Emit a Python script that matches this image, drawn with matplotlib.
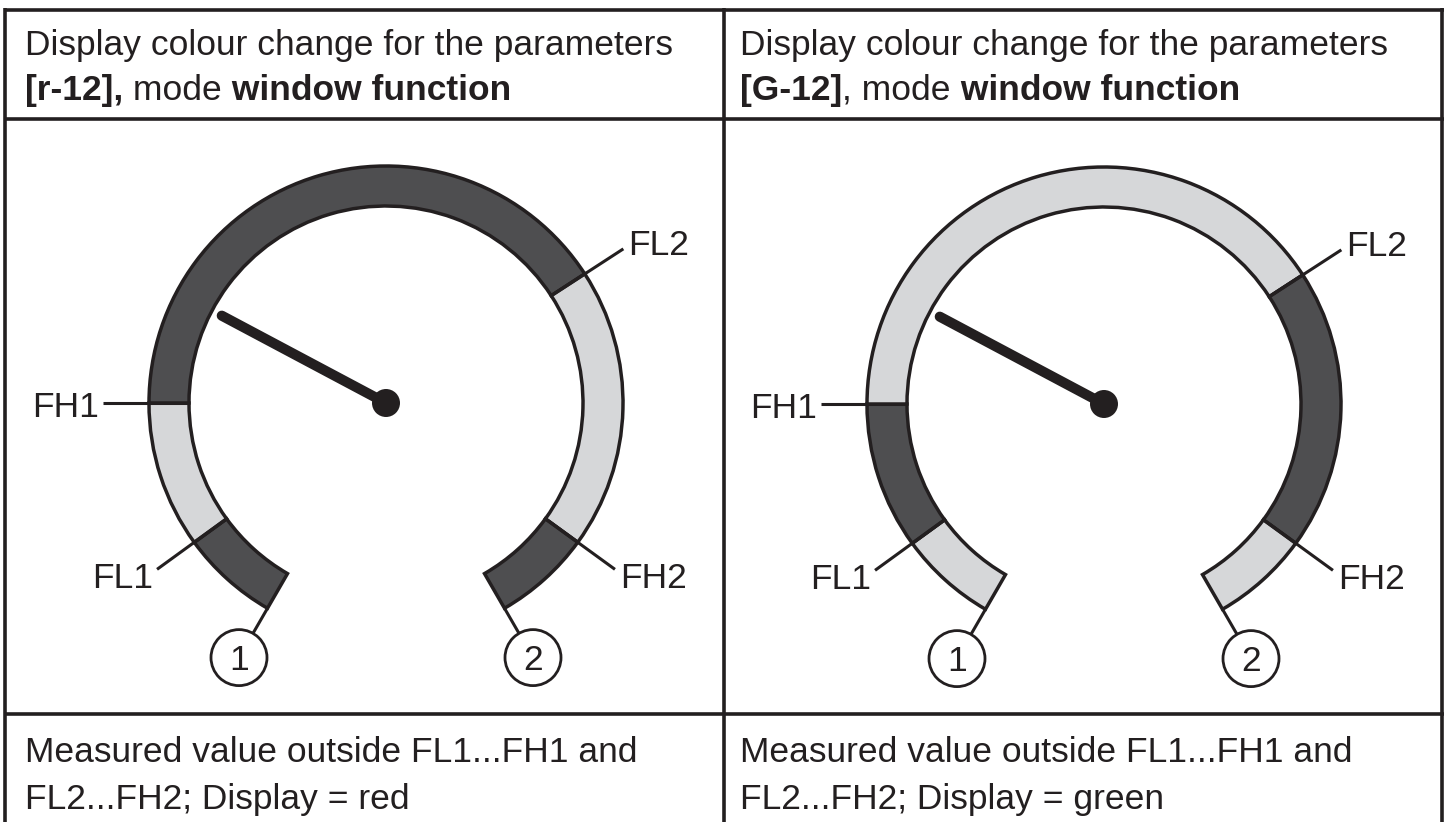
import matplotlib
matplotlib.use("Agg")
import matplotlib.pyplot as plt
from matplotlib.patches import Wedge, Circle
import numpy as np

# ---------------- data ----------------
header_lines = [
    [[("Display colour change for the parameters", "normal")],
     [("[r-12],", "bold"), (" mode", "normal"), (" window function", "bold")]],
    [[("Display colour change for the parameters", "normal")],
     [("[G-12]", "bold"), (", mode", "normal"), (" window function", "bold")]],
]
footer_lines = [
    ["Measured value outside FL1...FH1 and", "FL2...FH2; Display = red"],
    ["Measured value outside FL1...FH1 and", "FL2...FH2; Display = green"],
]
# ring boundaries (degrees, counter-clockwise from 3 o'clock): start, FL1, FH1, FL2, FH2, end
boundary_angles = [240, 216, 180, 33, -36, -60]
boundary_labels = ["FL1", "FH1", "FL2", "FH2"]
segment_shades = [
    ["dark", "light", "dark", "light", "dark"],
    ["light", "dark", "light", "dark", "light"],
]
pointer_angle = 152
callout_labels = ["1", "2"]

# ---------------- style ----------------
W, H = 1450, 822
INK = "#231f20"
SHADE = {"dark": "#4e4e50", "light": "#d6d7d9"}
FS = 25.5
plt.rcParams["font.family"] = ["Liberation Sans", "DejaVu Sans"]

fig = plt.figure(figsize=(W / 100, H / 100), dpi=100)
ax = fig.add_axes([0, 0, 1, 1])
ax.set_xlim(0, W)
ax.set_ylim(0, H)
ax.axis("off")


def Y(p):
    return H - p


# table frame
lw_frame = 2.6
for x in (5.5, 724, 1442):
    ax.plot([x, x], [Y(8.5), Y(822)], color=INK, lw=lw_frame, solid_capstyle="butt")
for y in (10, 119, 714):
    ax.plot([4, 1444], [Y(y), Y(y)], color=INK, lw=lw_frame, solid_capstyle="butt")

renderer = fig.canvas.get_renderer()

panel_x = [25, 740]
centers = [(386, 403), (1104, 404)]
R_OUT, R_IN = 237, 197
R_LEAD = 283

for p in range(2):
    x0 = panel_x[p]
    # headers
    for li, (pieces, base) in enumerate(zip(header_lines[p], [55, 100])):
        x = x0
        for s, w in pieces:
            t = ax.text(x, Y(base), s, fontsize=FS, fontweight=w, color=INK,
                        ha="left", va="baseline")
            bb = t.get_window_extent(renderer)
            x += bb.width
    # footers
    for s, base in zip(footer_lines[p], [762, 809]):
        ax.text(x0, Y(base), s, fontsize=FS, color=INK, ha="left", va="baseline")

    cx, cy = centers[p][0], Y(centers[p][1])
    # ring segments
    for i, shade in enumerate(segment_shades[p]):
        t1, t2 = boundary_angles[i + 1], boundary_angles[i]
        ax.add_patch(Wedge((cx, cy), R_OUT, t1, t2, width=R_OUT - R_IN,
                           facecolor=SHADE[shade], edgecolor=INK, lw=2.5,
                           joinstyle="miter", zorder=2))
    # boundary leaders and labels
    for ang, lab in zip(boundary_angles[1:-1], boundary_labels):
        a = np.deg2rad(ang)
        ca, sa = np.cos(a), np.sin(a)
        ax.plot([cx + R_IN * ca, cx + R_LEAD * ca], [cy + R_IN * sa, cy + R_LEAD * sa],
                color=INK, lw=2.2, solid_capstyle="butt", zorder=3)
        ex, ey = cx + R_LEAD * ca, cy + R_LEAD * sa
        if abs(sa) < 0.1:
            dy = -2
        else:
            dy = 6 * np.sign(sa)
        if ca < 0:
            ax.text(ex - 4, ey + dy - 12.5, lab, fontsize=FS, color=INK,
                    ha="right", va="baseline")
        else:
            ax.text(ex + 5, ey + dy - 12.5, lab, fontsize=FS, color=INK,
                    ha="left", va="baseline")
    # callouts at ring ends
    for ang, lab in zip([boundary_angles[0], boundary_angles[-1]], callout_labels):
        a = np.deg2rad(ang)
        ca, sa = np.cos(a), np.sin(a)
        ax.plot([cx + R_OUT * ca, cx + 266 * ca], [cy + R_OUT * sa, cy + 266 * sa],
                color=INK, lw=2.2, solid_capstyle="butt", zorder=3)
        ccx, ccy = cx + 294 * ca, cy + 294 * sa
        ax.add_patch(Circle((ccx, ccy), 28, facecolor="white", edgecolor=INK,
                            lw=2.0, zorder=3))
        ax.text(ccx, ccy - 12, lab, fontsize=FS, color=INK, ha="center",
                va="baseline", zorder=4)
    # pointer
    a = np.deg2rad(pointer_angle)
    ax.plot([cx, cx + 186 * np.cos(a)], [cy, cy + 186 * np.sin(a)], color=INK,
            lw=7.3, solid_capstyle="round", zorder=4)
    ax.add_patch(Circle((cx, cy), 14, facecolor=INK, edgecolor="none", zorder=5))

fig.savefig("out.png", dpi=100, facecolor="white")
